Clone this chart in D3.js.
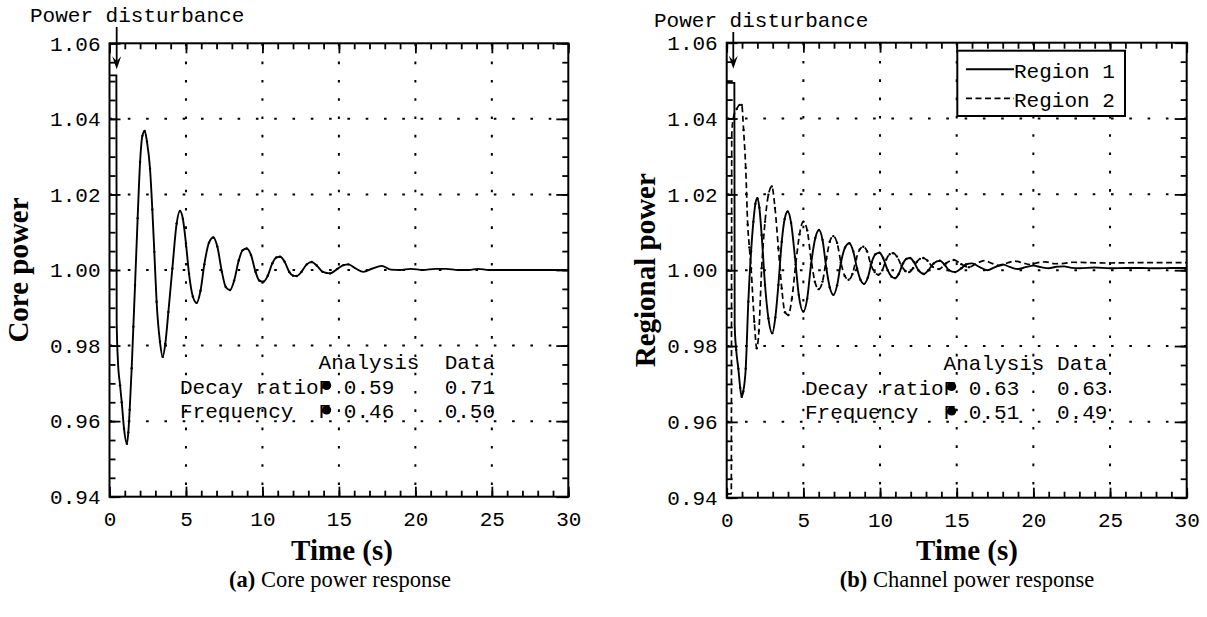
<!DOCTYPE html>
<html>
<head>
<meta charset="utf-8">
<script src="https://cdn.jsdelivr.net/npm/d3@7"></script>
<style>
  body { margin: 0; background: #fff; }
  svg text { fill: #000; }
  .mono { font-family: "Courier New", "Liberation Mono", monospace; font-size: 21px; white-space: pre; }
  .serif { font-family: "Times New Roman", "Liberation Serif", serif; }
  .tick text { font-family: "Courier New", "Liberation Mono", monospace; font-size: 21px; }
</style>
</head>
<body>
<svg id="chart" width="1207" height="617"></svg>
<script>
// ---- data ----
const xTicks = [0, 5, 10, 15, 20, 25, 30];
const yTicks = [0.94, 0.96, 0.98, 1.00, 1.02, 1.04, 1.06];

// core power response, [time s, normalised power]
const corePower = [[0,1.0515],[0.45,1.0515],[0.47,0.986],[0.55,0.976],[0.69,0.9695],[0.8,0.965],[0.95,0.958],[1.14,0.954],
  [1.23,0.957],[1.32,0.963],[1.45,0.974],[1.56,0.985],[1.67,0.996],[1.84,1.0137],[2.0,1.0286],[2.15,1.0355],[2.3,1.0368],
  [2.45,1.034],[2.65,1.0268],[2.8,1.016],[2.93,1.0048],[3.08,0.9916],[3.3,0.981],[3.48,0.977],[3.65,0.9805],[3.85,0.9889],
  [4.11,1.0004],[4.39,1.0123],[4.61,1.0156],[4.8,1.0135],[5.0,1.007],[5.2,0.999],[5.45,0.993],[5.7,0.9913],[5.95,0.9945],
  [6.2,1.0015],[6.5,1.0072],[6.79,1.0086],[7.05,1.0062],[7.35,0.9995],[7.6,0.9955],[7.88,0.9947],[8.15,0.9972],[8.45,1.0025],
  [8.7,1.0052],[8.97,1.0057],[9.25,1.004],[9.55,0.9995],[9.8,0.9972],[10.06,0.9969],[10.35,0.9985],[10.65,1.0018],[10.9,1.0033],
  [11.15,1.0035],[11.45,1.0022],[11.75,0.9995],[12.0,0.9985],[12.24,0.9984],[12.55,0.9995],[12.9,1.0015],[13.22,1.0021],
  [13.55,1.0012],[13.95,0.9995],[14.42,0.9991],[14.9,1.0003],[15.3,1.0013],[15.62,1.0015],[16.1,1.0004],[16.6,0.9995],
  [17.2,1.0004],[17.8,1.0011],[18.4,1.0001],[19.0,1.0],[19.7,1.0003],[20.5,1.0],[21.3,1.0003],[22.0,1.0003],[22.8,1.0],
  [23.5,1.0],[24.1,1.0003],[24.8,1.0],[26,1.0],[28,1.0],[30,1.0]];

// regional power, region 1 (solid)
const region1 = [[0,1.0494],[0.5,1.0494],[0.52,0.9855],[0.62,0.979],[0.76,0.974],[0.88,0.969],[0.98,0.9666],[1.08,0.968],
  [1.24,0.974],[1.41,0.9917],[1.59,1.0049],[1.74,1.0128],[1.87,1.0175],[2.0,1.019],[2.13,1.0165],[2.28,1.0093],[2.5,0.9961],
  [2.72,0.9873],[2.97,0.9834],[3.17,0.9875],[3.37,0.9961],[3.59,1.0075],[3.78,1.0135],[3.98,1.0155],[4.2,1.0125],[4.45,1.0035],
  [4.7,0.9935],[5.0,0.9891],[5.25,0.9925],[5.5,1.0015],[5.78,1.0085],[6.02,1.0106],[6.25,1.008],[6.5,1.0005],[6.72,0.9955],
  [6.96,0.9935],[7.2,0.996],[7.45,1.002],[7.72,1.006],[8.0,1.0071],[8.25,1.005],[8.5,1.0005],[8.72,0.9975],[8.96,0.9964],
  [9.2,0.998],[9.45,1.002],[9.7,1.0042],[9.96,1.0046],[10.2,1.0032],[10.5,1.0],[10.75,0.9983],[10.98,0.9979],[11.22,0.999],
  [11.5,1.0018],[11.72,1.003],[11.96,1.0032],[12.2,1.0022],[12.5,1.0],[12.87,0.999],[13.15,1.0],[13.5,1.0018],[13.9,1.0025],
  [14.2,1.0015],[14.5,1.0],[14.9,0.9995],[15.3,1.0005],[15.6,1.0015],[16.0,1.0018],[16.5,1.0008],[17.0,1.0],[17.5,1.0008],
  [18.0,1.0015],[18.5,1.0008],[19.0,1.0003],[19.5,1.0008],[20.0,1.0012],[20.5,1.0008],[21.0,1.0005],[21.5,1.0009],[22.0,1.001],
  [22.5,1.0006],[23.0,1.0005],[24,1.0007],[25,1.0005],[26,1.0006],[27,1.0006],[28,1.0005],[29,1.0006],[30,1.0006]];

// regional power, region 2 (dashed)
const region2 = [[0,0.941],[0.3,0.941],[0.33,1.036],[0.45,1.0405],[0.65,1.0425],[0.85,1.0436],[0.98,1.0436],[1.1,1.037],
  [1.24,1.027],[1.37,1.012],[1.48,1.006],[1.59,1.0005],[1.8,0.9864],[1.96,0.9794],[2.1,0.984],[2.28,1.0005],[2.5,1.0128],
  [2.72,1.0199],[2.94,1.0221],[3.15,1.0164],[3.37,1.0058],[3.59,0.9952],[3.8,0.9889],[4.02,0.9882],[4.25,0.9925],[4.5,1.0015],
  [4.75,1.0095],[5.0,1.0128],[5.25,1.0105],[5.5,1.003],[5.75,0.997],[6.0,0.995],[6.25,0.997],[6.5,1.003],[6.72,1.0075],
  [6.95,1.009],[7.2,1.0072],[7.45,1.002],[7.7,0.9985],[7.95,0.9975],[8.2,0.999],[8.45,1.003],[8.68,1.0055],[8.91,1.0062],
  [9.15,1.005],[9.4,1.0015],[9.65,0.9995],[9.9,0.9988],[10.15,1.0],[10.4,1.0028],[10.63,1.0042],[10.87,1.0045],[11.1,1.0036],
  [11.4,1.0012],[11.65,0.9998],[11.9,0.9995],[12.15,1.0005],[12.4,1.0022],[12.6,1.003],[12.83,1.0032],[13.1,1.0025],[13.4,1.001],
  [13.85,1.0003],[14.3,1.0018],[14.8,1.0027],[15.3,1.0016],[15.8,1.0008],[16.3,1.0018],[16.8,1.0025],[17.3,1.0018],[17.8,1.0012],
  [18.3,1.0019],[18.8,1.0024],[19.3,1.0019],[19.8,1.0015],[20.3,1.002],[20.8,1.0022],[21.4,1.0017],[22.0,1.0018],[22.6,1.0021],
  [23.5,1.002],[25,1.0019],[27,1.002],[30,1.002]];

const tableA = ["           Analysis  Data", "Decay ratioF 0.59    0.71", "Frequency  F 0.46    0.50"];
const tableB = ["           Analysis Data", "Decay ratioF 0.63   0.63", "Frequency  F 0.51   0.49"];
const legendNames = ["Region 1", "Region 2"];

const svg = d3.select("#chart");

function drawPanel(p) {
  const x = d3.scaleLinear().domain([0, 30]).range([p.left, p.right]);
  const y = d3.scaleLinear().domain([0.94, 1.06]).range([p.bottom, p.top]);
  const g = svg.append("g");

  // dotted grid
  g.selectAll(".vgrid").data(xTicks.slice(1, -1)).enter().append("line")
    .attr("x1", d => x(d)).attr("x2", d => x(d))
    .attr("y1", p.top).attr("y2", p.bottom)
    .attr("stroke", "#000").attr("stroke-width", 2).attr("stroke-dasharray", "2.6,15.7");
  g.selectAll(".hgrid").data(yTicks.slice(1, -1)).enter().append("line")
    .attr("y1", d => y(d)).attr("y2", d => y(d))
    .attr("x1", p.left).attr("x2", p.right)
    .attr("stroke", "#000").attr("stroke-width", 2).attr("stroke-dasharray", "2.6,15.7");

  // ticks (inward on all four sides)
  const xMinor = d3.range(0, 31, 1);
  const yMinor = d3.range(0, 25).map(i => 0.94 + i * 0.005);
  const ax = [
    [d3.axisBottom(x).tickValues(xMinor).tickSize(-6).tickFormat(""), p.bottom, 0],
    [d3.axisTop(x).tickValues(xMinor).tickSize(-6).tickFormat(""), p.top, 0],
    [d3.axisTop(x).tickValues(xTicks).tickSize(-10).tickFormat(""), p.top, 0],
    [d3.axisBottom(x).tickValues(xTicks).tickSize(-10).tickPadding(14).tickFormat(d3.format("d")), p.bottom, 0],
    [d3.axisLeft(y).tickValues(yMinor).tickSize(-6).tickFormat(""), 0, p.left],
    [d3.axisRight(y).tickValues(yMinor).tickSize(-6).tickFormat(""), 0, p.right],
    [d3.axisRight(y).tickValues(yTicks).tickSize(-12).tickFormat(""), 0, p.right],
    [d3.axisLeft(y).tickValues(yTicks).tickSize(-11).tickPadding(9).tickFormat(d3.format(".2f")), 0, p.left]
  ];
  ax.forEach(([a, ty, tx]) => {
    const ag = g.append("g").attr("transform", `translate(${tx},${ty})`).call(a);
    ag.select(".domain").remove();
    ag.selectAll(".tick line").attr("stroke-width", 1.8);
  });
  g.selectAll(".tick text").attr("fill", "#000");

  // frame
  g.append("rect").attr("x", p.left).attr("y", p.top)
    .attr("width", p.right - p.left).attr("height", p.bottom - p.top)
    .attr("fill", "none").attr("stroke", "#000").attr("stroke-width", 2);

  const clipId = "clip" + p.id;
  svg.append("clipPath").attr("id", clipId).append("rect")
    .attr("x", p.left).attr("y", p.top).attr("width", p.right - p.left).attr("height", p.bottom - p.top);

  const line = d3.line().x(d => x(d[0])).y(d => y(d[1])).curve(d3.curveMonotoneX);
  p.series.forEach(s => {
    g.append("path").datum(s.data).attr("d", line).attr("clip-path", `url(#${clipId})`)
      .attr("fill", "none").attr("stroke", "#000").attr("stroke-width", s.dash ? 1.7 : 1.9)
      .attr("stroke-dasharray", s.dash ? "6,3.5" : null);
    g.selectAll(null).data(s.data.filter(d => d[0] > 0.6 && d[0] < 16)).enter().append("circle")
      .attr("cx", d => x(d[0])).attr("cy", d => y(d[1])).attr("r", 1.2).attr("fill", "#000");
  });

  // power disturbance annotation
  g.append("text").attr("class", "mono").attr("x", p.distX).attr("y", p.distY).text("Power disturbance");
  const ax0 = x(p.arrowT);
  g.append("line").attr("x1", ax0).attr("x2", ax0).attr("y1", p.distY + 5).attr("y2", p.top + 22)
    .attr("stroke", "#000").attr("stroke-width", 1.8);
  g.append("path").attr("d", `M${ax0 - 4.5},${p.top + 13} L${ax0},${p.top + 26} L${ax0 + 4.5},${p.top + 13} L${ax0},${p.top + 18} Z`)
    .attr("fill", "#000");

  // analysis table
  const cw = 12.6;
  p.table.forEach((row, i) => {
    g.append("text").attr("class", "mono").attr("x", p.tabX).attr("y", p.tabY + i * 24.5).text(row);
  });
  [1, 2].forEach(i => {
    g.append("circle").attr("cx", p.tabX + 11 * cw + 8).attr("cy", p.tabY + i * 24.5 - 8).attr("r", 4.6).attr("fill", "#000");
  });

  // axis titles
  g.append("text").attr("class", "serif").attr("x", p.titleX).attr("y", 560)
    .attr("text-anchor", "middle").attr("font-weight", "bold").attr("font-size", 29).text("Time (s)");
  g.append("text").attr("class", "serif")
    .attr("transform", `translate(${p.ylabX},${(p.top + p.bottom) / 2}) rotate(-90)`)
    .attr("text-anchor", "middle").attr("font-weight", "bold").attr("font-size", 29).text(p.ylab);

  // caption
  const cap = g.append("text").attr("class", "serif").attr("x", p.capX).attr("y", 587)
    .attr("text-anchor", "middle").attr("font-size", 22.5);
  cap.append("tspan").attr("font-weight", "bold").text(p.capTag);
  cap.append("tspan").text(" " + p.capText);

  return { g, x, y };
}

drawPanel({
  id: "a", left: 109.5, right: 568.3, top: 43.3, bottom: 496.7,
  series: [{ data: corePower, dash: false }],
  distX: 30, distY: 22, arrowT: 0.47,
  table: tableA, tabX: 180, tabY: 369,
  titleX: 342, ylabX: 28, ylab: "Core power",
  capX: 340, capTag: "(a)", capText: "Core power response"
});

const right = drawPanel({
  id: "b", left: 726.7, right: 1186.7, top: 42.7, bottom: 497.7,
  series: [{ data: region1, dash: false }, { data: region2, dash: true }],
  distX: 654, distY: 27, arrowT: 0.43,
  table: tableB, tabX: 805, tabY: 370,
  titleX: 967, ylabX: 655, ylab: "Regional power",
  capX: 967, capTag: "(b)", capText: "Channel power response"
});

// legend on panel (b)
const lg = right.g.append("g");
lg.append("rect").attr("x", 957.3).attr("y", 50.7).attr("width", 167.7).attr("height", 65.3)
  .attr("fill", "#fff").attr("stroke", "#000").attr("stroke-width", 2);
legendNames.forEach((name, i) => {
  const ly = 69.3 + i * 29;
  lg.append("line").attr("x1", 966).attr("x2", 1014).attr("y1", ly).attr("y2", ly)
    .attr("stroke", "#000").attr("stroke-width", i ? 1.7 : 1.9).attr("stroke-dasharray", i ? "6,3.5" : null);
  lg.append("text").attr("class", "mono").attr("x", 1014).attr("y", ly + 8.5).text(name);
});
</script>
</body>
</html>
